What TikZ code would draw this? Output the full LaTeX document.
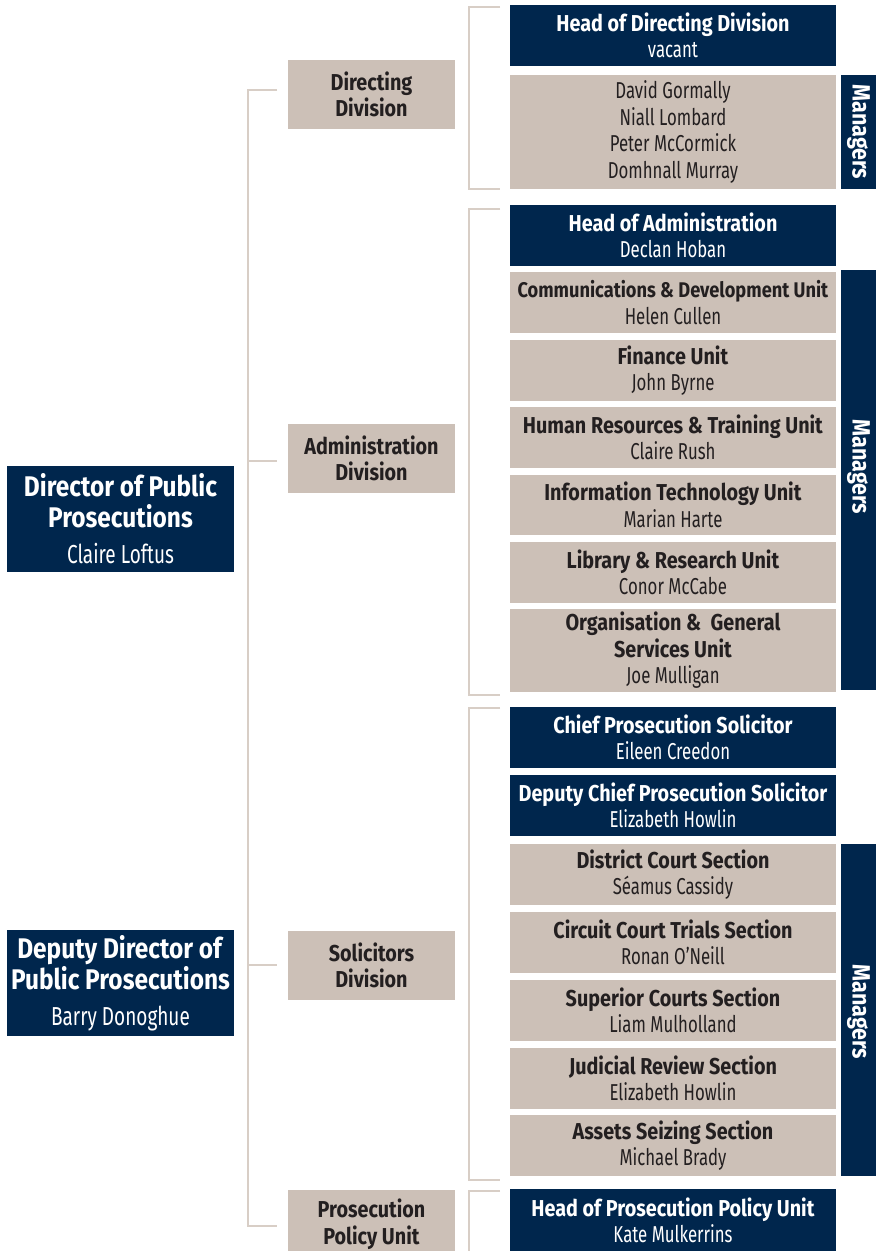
\documentclass[tikz,border=0pt]{standalone}
\usepackage{fontspec}
\setmainfont{Fira Sans}[UprightFeatures={FakeStretch=0.73}, BoldFeatures={FakeStretch=0.86}]
\definecolor{navyc}{HTML}{00264D}
\definecolor{beigec}{HTML}{CCC0B7}
\definecolor{linec}{HTML}{D8CEC6}
\definecolor{txtc}{HTML}{231F20}
\tikzset{
  boxbase/.style={inner sep=0pt, align=center, font=\fontsize{23}{26.5}\selectfont},
  navybox/.style={boxbase, fill=navyc, text=white},
  beigebox/.style={boxbase, fill=beigec, text=txtc},
  topbox/.style={inner sep=0pt, align=center, fill=navyc, text=white, font=\fontsize{28.4}{31}\selectfont},
  conn/.style={draw=linec, line width=1.5pt},
  mgrtext/.style={text=white, font=\bfseries\fontsize{25}{26}\selectfont, rotate=-90, inner sep=0pt}
}
\newcommand\bx[7]{\node[#6, minimum width={(#4-#2)*1pt}, minimum height={(#5-#3)*1pt}] (#1) at ({(#2+#4)/2},{(#3+#5)/2}) {#7};}
\begin{document}
\begin{tikzpicture}[x=1pt,y=-1pt]
\useasboundingbox (0,0) rectangle (876,1251);
% left column
\bx{dpp}{7}{466}{234}{572}{topbox}{\textbf{Director of Public}\\\textbf{Prosecutions}\\[5pt]{\fontsize{26}{28}\selectfont Claire Loftus}}
\bx{ddpp}{7}{930}{234}{1036}{topbox}{\textbf{Deputy Director of}\\\textbf{Public Prosecutions}\\[5pt]{\fontsize{26}{28}\selectfont Barry Donoghue}}
% divisions
\bx{dirdiv}{288}{60}{455}{129}{beigebox}{\textbf{Directing}\\\textbf{Division}}
\bx{admdiv}{288}{424}{455}{493}{beigebox}{\textbf{Administration}\\\textbf{Division}}
\bx{soldiv}{288}{931}{455}{1000}{beigebox}{\textbf{Solicitors}\\\textbf{Division}}
\bx{ppudiv}{288}{1190}{455}{1258}{beigebox}{\textbf{Prosecution}\\\textbf{Policy Unit}}
% directing
\bx{headdir}{510}{5}{836}{66}{navybox}{\textbf{Head of Directing Division}\\vacant}
\bx{dirmgr}{510}{75}{836}{189}{beigebox}{David Gormally\\Niall Lombard\\Peter McCormick\\Domhnall Murray}
\bx{mbar1}{841}{75}{876}{189}{navybox}{}
\node[mgrtext] (m1) at (mbar1.center) {Managers};
% administration
\bx{headadm}{510}{205}{836}{266}{navybox}{\textbf{Head of Administration}\\Declan Hoban}
\bx{comms}{510}{272}{836}{333}{beigebox}{{\fontsize{21.2}{26.5}\selectfont\textbf{Communications \& Development Unit}}\\Helen Cullen}
\bx{fin}{510}{340}{836}{401}{beigebox}{\textbf{Finance Unit}\\John Byrne}
\bx{hr}{510}{407}{836}{468}{beigebox}{\textbf{Human Resources \& Training Unit}\\Claire Rush}
\bx{it}{510}{475}{836}{535}{beigebox}{\textbf{Information Technology Unit}\\Marian Harte}
\bx{lib}{510}{542}{836}{603}{beigebox}{\textbf{Library \& Research Unit}\\Conor McCabe}
\bx{org}{510}{609}{836}{692}{beigebox}{\textbf{Organisation \&\ \ General}\\\textbf{Services Unit}\\Joe Mulligan}
\bx{mbar2}{841}{270}{876}{690}{navybox}{}
\node[mgrtext] (m2) at (858.5,467) {Managers};
% solicitors
\bx{chief}{510}{707}{836}{768}{navybox}{\textbf{Chief Prosecution Solicitor}\\Eileen Creedon}
\bx{depchief}{510}{775}{836}{836}{navybox}{\textbf{Deputy Chief Prosecution Solicitor}\\Elizabeth Howlin}
\bx{district}{510}{844}{836}{905}{beigebox}{\textbf{District Court Section}\\Séamus Cassidy}
\bx{circuit}{510}{912}{836}{973}{beigebox}{\textbf{Circuit Court Trials Section}\\Ronan O’Neill}
\bx{superior}{510}{980}{836}{1041}{beigebox}{\textbf{Superior Courts Section}\\Liam Mulholland}
\bx{judicial}{510}{1048}{836}{1109}{beigebox}{\textbf{Judicial Review Section}\\Elizabeth Howlin}
\bx{assets}{510}{1115}{836}{1176}{beigebox}{\textbf{Assets Seizing Section}\\Michael Brady}
\bx{mbar3}{841}{844}{876}{1176}{navybox}{}
\node[mgrtext] (m3) at (858.5,1012) {Managers};
% prosecution policy
\bx{headppu}{510}{1189}{836}{1252}{navybox}{\textbf{Head of Prosecution Policy Unit}\\Kate Mulkerrins}
% left bracket
\coordinate (l1) at (248,90);  \coordinate (s1) at (277,90);
\coordinate (l2) at (248,461); \coordinate (s2) at (277,461);
\coordinate (l3) at (248,965); \coordinate (s3) at (277,965);
\coordinate (l4) at (248,1226);\coordinate (s4) at (277,1226);
\draw[conn] (s1) -- (l1) -- (l4) -- (s4);
\draw[conn] (l2) -- (s2);
\draw[conn] (l3) -- (s3);
% right brackets
\coordinate (a1) at (500,7);   \coordinate (b1) at (469,7);
\coordinate (c1) at (469,189); \coordinate (d1) at (500,189);
\draw[conn] (a1) -- (b1) -- (c1) -- (d1);
\coordinate (a2) at (500,209); \coordinate (b2) at (469,209);
\coordinate (c2) at (469,695); \coordinate (d2) at (500,695);
\draw[conn] (a2) -- (b2) -- (c2) -- (d2);
\coordinate (a3) at (500,708); \coordinate (b3) at (469,708);
\coordinate (c3) at (469,1180);\coordinate (d3) at (500,1180);
\draw[conn] (a3) -- (b3) -- (c3) -- (d3);
\coordinate (a4) at (500,1191);\coordinate (b4) at (469,1191);
\coordinate (c4) at (469,1262);
\draw[conn] (a4) -- (b4) -- (c4);
\end{tikzpicture}
\end{document}
